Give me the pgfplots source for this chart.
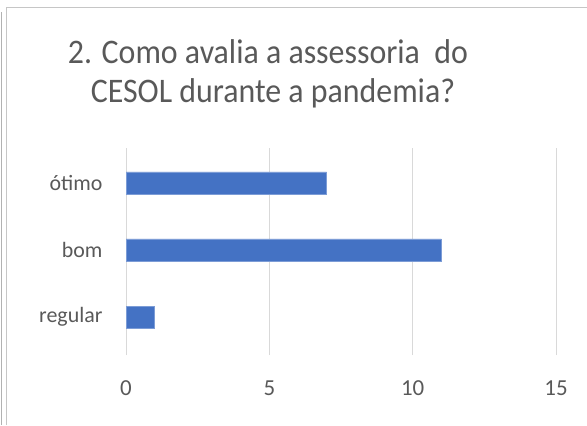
\documentclass[border=0pt]{standalone}
\usepackage{fontspec}
\setmainfont{Carlito}
\usepackage{pgfplots}
\pgfplotsset{compat=1.18}
\definecolor{barblue}{HTML}{4472C4}
\definecolor{txtgray}{HTML}{595959}
\definecolor{gridgray}{HTML}{D9D9D9}
\begin{document}
\begin{tikzpicture}[x=1bp,y=1bp]
\path[use as bounding box] (0,0) rectangle (587,425);
\draw[gray!60, line width=1bp] (1.5,0) -- (1.5,413);
\draw[gray!45, line width=1bp] (6.5,0) -- (6.5,417) -- (587,417);
\node[anchor=base, text=txtgray, font=\fontsize{32}{38}\selectfont] at (268,362) {\scalebox{1}[1.08]{2. Como avalia a assessoria\ \ do}};
\node[anchor=base, text=txtgray, font=\fontsize{32}{38}\selectfont] at (273,323) {\scalebox{1}[1.08]{CESOL durante a pandemia?}};
\begin{axis}[
  at={(126bp,70bp)}, anchor=south west,
  scale only axis, width=430bp, height=207bp,
  xmin=0, xmax=15, ymin=-0.567, ymax=2.522,
  xtick={0,5,10,15}, ytick={0,1,2},
  yticklabels={regular,bom,ótimo},
  axis line style={draw=none},
  major tick length=0pt,
  xmajorgrids, grid style={gridgray, line width=1bp},
  tick label style={text=txtgray},
  xticklabel style={yshift=-22bp, font=\fontsize{23}{26}\selectfont},
  yticklabel style={xshift=-20bp, font=\fontsize{22}{26}\selectfont},
  /pgf/number format/assume math mode=true,
  xbar, bar width=22bp,
]
\addplot[fill=barblue, draw=barblue!70!white, line width=0.6bp] coordinates {(1,0) (11,1) (7,2)};
\end{axis}
\end{tikzpicture}
\end{document}
